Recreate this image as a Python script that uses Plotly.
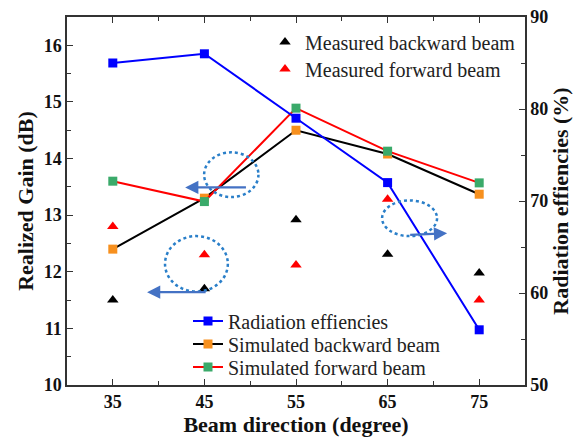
import plotly.graph_objects as go

beam_dir = [35, 45, 55, 65, 75]
rad_eff = [85.0, 86.0, 79.0, 72.0, 56.0]
sim_backward = [12.4, 13.3, 14.5, 14.08, 13.37]
sim_forward = [13.6, 13.24, 14.89, 14.13, 13.57]
meas_backward = [11.5, 11.7, 12.92, 12.31, 11.98]
meas_forward = [12.8, 12.3, 12.12, 13.28, 11.5]

FONT = "Liberation Serif, Times New Roman, serif"

fig = go.Figure()

fig.add_trace(go.Scatter(x=beam_dir, y=meas_backward, mode="markers", name="Measured backward beam",
                         marker=dict(symbol="triangle-up", size=10, color="#000000"), legend="legend"))
fig.add_trace(go.Scatter(x=beam_dir, y=meas_forward, mode="markers", name="Measured forward beam",
                         marker=dict(symbol="triangle-up", size=10, color="#FF0000"), legend="legend2"))
fig.add_trace(go.Scatter(x=beam_dir, y=rad_eff, mode="lines+markers", name="Radiation effiencies",
                         line=dict(color="#0000FF", width=2),
                         marker=dict(symbol="square", size=9, color="#0000FF"),
                         yaxis="y2", legend="legend3"))
fig.add_trace(go.Scatter(x=beam_dir, y=sim_backward, mode="lines+markers", name="Simulated backward beam",
                         line=dict(color="#000000", width=2),
                         marker=dict(symbol="square", size=9, color="#F7901E"), legend="legend4"))
fig.add_trace(go.Scatter(x=beam_dir, y=sim_forward, mode="lines+markers", name="Simulated forward beam",
                         line=dict(color="#FF0000", width=2),
                         marker=dict(symbol="square", size=9, color="#3AAA6A"), legend="legend5"))

# dotted ellipses
ell_color = "#2A7FC9"
for x0, x1, y0, y1 in [(44.97, 50.9, 13.32, 14.11), (40.7, 47.56, 11.65, 12.63), (64.4, 70.4, 12.63, 13.26)]:
    fig.add_shape(type="circle", xref="x", yref="y", x0=x0, x1=x1, y0=y0, y1=y1,
                  line=dict(color=ell_color, width=2.5, dash="dot"))

arrow_color = "#4472C4"
for (xs, ys, xe, ye) in [(49.7, 13.49, 42.9, 13.49), (45.3, 11.64, 38.74, 11.64), (67.3, 12.65, 71.5, 12.68)]:
    fig.add_annotation(x=xe, y=ye, ax=xs, ay=ys, xref="x", yref="y", axref="x", ayref="y",
                       showarrow=True, arrowhead=2, arrowsize=1.2, arrowwidth=2.2,
                       arrowcolor=arrow_color, text="")

axis_common = dict(showline=True, linecolor="#333333", linewidth=1.5, ticks="inside",
                   ticklen=6, tickwidth=1.2, tickcolor="#333333", showgrid=False, zeroline=False,
                   automargin=False, ticklabeloverflow="allow",
                   tickfont=dict(family=FONT, size=18, color="#111111", weight="bold"))
title_font = dict(family=FONT, size=22, weight="bold", color="#111111")

def leg(xpx, ycenter_px):
    return dict(x=(xpx - 67) / 458, y=(385 - ycenter_px) / 368, xanchor="left", yanchor="middle",
                bgcolor="rgba(0,0,0,0)", font=dict(family=FONT, size=20, color="#222222"),
                itemwidth=30)

# page has an 8px body margin, so the figure is drawn 8px smaller and margins compensate
fig.update_layout(
    width=578, height=429,
    margin=dict(l=59, r=61, t=9, b=52, autoexpand=False),
    paper_bgcolor="white", plot_bgcolor="white",
    font=dict(family=FONT, color="#111111"),
    showlegend=True,
    xaxis=dict(range=[30, 80], tickvals=beam_dir, mirror="ticks",
               minor=dict(tickvals=[40, 50, 60, 70], ticks="inside", ticklen=4, tickcolor="#333333"),
               title=dict(text="Beam direction (degree)", standoff=2, font=title_font),
               **axis_common),
    yaxis=dict(range=[10, 16.5], dtick=1, tick0=10,
               minor=dict(dtick=0.5, tick0=10, ticks="inside", ticklen=4, tickcolor="#333333"),
               title=dict(text="Realized Gain (dB)", standoff=4, font=title_font),
               **axis_common),
    yaxis2=dict(range=[50, 90], dtick=10, tick0=50, overlaying="y", side="right",
                minor=dict(dtick=5, tick0=50, ticks="inside", ticklen=4, tickcolor="#333333"),
                title=dict(text="Radiation effiencies (%)", standoff=4, font=title_font),
                **axis_common),
    legend=leg(265, 42),
    legend2=leg(265, 69),
    legend3=leg(188, 321),
    legend4=leg(188, 344),
    legend5=leg(188, 367),
)

fig.write_html("out.html")
